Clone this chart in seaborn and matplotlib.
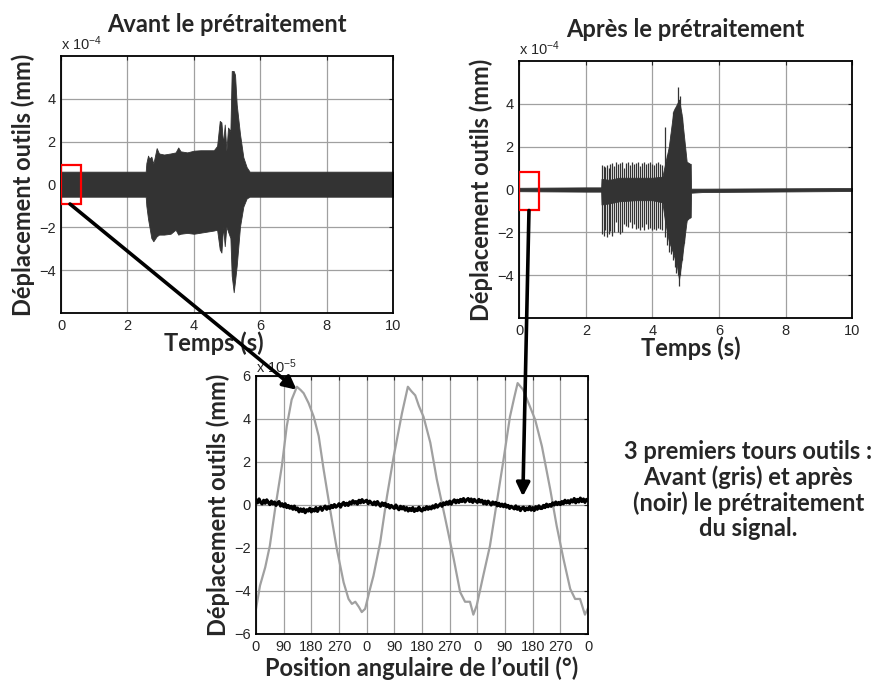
import numpy as np
import pandas as pd
import seaborn as sns
import matplotlib.pyplot as plt
from matplotlib.patches import Rectangle, ConnectionPatch

# ---- top left : before preprocessing (signal envelope, x1e-4 mm) ----
before_t = [0, 2.55, 2.57, 2.62, 2.66, 2.72, 2.78, 2.88, 2.95, 3.1,
            3.3, 3.45, 3.53, 3.6, 3.8, 4.0, 4.2, 4.4, 4.6, 4.7,
            4.78, 4.83, 4.88, 4.93, 4.98, 5.03, 5.1, 5.14, 5.2, 5.24,
            5.29, 5.39, 5.49, 5.59, 5.68, 5.75, 10]
before_up = [0.6, 0.6, 1.0, 1.35, 1.2, 1.3, 0.97, 1.7, 1.45, 1.4,
             1.45, 1.5, 1.73, 1.55, 1.5, 1.58, 1.6, 1.6, 1.6, 1.8,
             2.97, 2.9, 1.9, 2.8, 1.58, 2.66, 2.5, 5.3, 5.3, 5.12,
             3.74, 2.35, 1.27, 0.81, 0.6, 0.6, 0.6]
before_lo = [-0.57, -0.57, -1.0, -1.6, -1.96, -2.5, -2.65, -2.42, -2.34, -2.34,
             -2.3, -2.11, -2.34, -2.3, -2.26, -2.3, -2.25, -2.2, -2.15, -2.11,
             -3.03, -3.18, -1.96, -2.88, -1.96, -2.2, -2.5, -4.26, -5.03, -4.5,
             -3.8, -1.96, -1.03, -0.65, -0.57, -0.57, -0.57]

# ---- top right : after preprocessing (core band + spikes, x1e-4 mm) ----
after_t = [0, 2.0, 2.46, 2.47, 2.7, 3.0, 3.5, 4.0, 4.3, 4.38, 4.49,
           4.63, 4.74, 4.8, 4.88, 5.03, 5.13, 5.15, 5.16, 5.5, 10]
after_up = [0.08, 0.1, 0.1, 0.5, 0.45, 0.55, 0.55, 0.55, 0.6, 1.2, 1.97,
            3.67, 4.0, 4.2, 3.5, 1.3, 1.2, 1.2, 0.04, 0.04, 0.07]
after_lo = [-0.08, -0.1, -0.1, -0.7, -0.65, -0.55, -0.5, -0.5, -0.6, -1.5, -2.4,
            -3.0, -3.6, -4.2, -3.3, -1.44, -1.29, -1.29, -0.15, -0.12, -0.07]

spike_t = [2.48, 2.53, 2.58, 2.63, 2.68, 2.74, 2.80, 2.86, 2.92, 2.98,
           3.04, 3.10, 3.16, 3.22, 3.28, 3.34, 3.40, 3.46, 3.52, 3.58,
           3.64, 3.70, 3.76, 3.82, 3.88, 3.94, 4.00, 4.06, 4.12, 4.18,
           4.24, 4.30, 4.38, 4.44, 4.50, 4.56, 4.62, 4.68, 4.72, 4.76,
           4.80, 4.83, 4.88, 4.94, 5.00, 5.06, 5.12]
spike_top = [1.15, 1.1, 1.05, 1.15, 1.0, 1.2, 1.25, 1.1, 1.3, 1.2,
             1.25, 1.3, 1.0, 1.25, 1.3, 1.15, 1.3, 1.2, 1.25, 1.3,
             1.1, 1.25, 1.3, 1.2, 1.25, 1.3, 1.2, 1.15, 1.25, 1.3,
             1.2, 1.15, 2.9, 1.6, 2.0, 2.6, 3.6, 3.8, 3.7, 4.8,
             4.1, 4.35, 3.4, 2.0, 1.3, 1.25, 1.2]
spike_bot = [-2.1, -2.15, -1.9, -2.2, -2.1, -1.95, -2.15, -2.0, -1.5, -2.0,
             -2.1, -2.0, -1.6, -1.7, -1.75, -1.5, -1.8, -1.6, -1.85, -1.8,
             -1.9, -1.75, -1.9, -1.6, -1.85, -1.8, -1.9, -1.85, -1.9, -1.8,
             -1.85, -1.9, -2.2, -2.6, -2.9, -3.0, -3.3, -3.6, -3.9, -4.0,
             -4.5, -4.0, -3.3, -2.5, -1.5, -1.3, -1.35]

# ---- bottom : first 3 tool turns (x1e-5 mm) ----
grey_deg = [0, 13, 30, 45, 62, 84, 100, 116, 133, 145,
            155, 171, 188, 204, 220, 241, 263, 285, 301, 312,
            323, 335, 344, 355, 371, 382, 404, 426, 448, 475,
            494, 505, 518, 530, 545, 567, 588, 616, 643, 664,
            680, 696, 707, 718, 739, 761, 783, 805, 826, 840,
            851, 869, 891, 908, 930, 957, 978, 1000, 1022, 1038,
            1054, 1070, 1080]
grey_val = [-4.83, -3.75, -2.9, -1.9, -0.2, 1.8, 3.66, 4.9, 5.5, 5.35,
            5.2, 4.74, 4.1, 3.2, 1.65, -0.2, -2.05, -3.6, -4.37, -4.6,
            -4.5, -4.75, -4.98, -4.83, -3.9, -3.3, -1.74, 0.4, 2.27, 4.28,
            5.5, 5.3, 5.1, 4.6, 4.1, 2.9, 1.2, -0.66, -2.5, -4.05,
            -4.5, -4.5, -5.1, -4.67, -3.3, -1.9, 0.1, 2.1, 4.1, 5.0,
            5.67, 5.36, 4.58, 3.97, 2.73, 0.73, -0.97, -2.5, -3.9, -4.37,
            -4.37, -5.1, -4.8]

black_deg = list(range(0, 1081, 5))
black_val = [0.25, 0.10, 0.28, 0.12, 0.05, 0.22,
             0.08, 0.24, 0.12, 0.02, 0.18, 0.05,
             0.14, -0.02, 0.10, 0.16, -0.05, 0.06,
             -0.08, 0.06, -0.12, -0.02, -0.15, -0.06,
             -0.20, -0.05, -0.22, -0.14, -0.32, -0.18,
             -0.30, -0.18, -0.36, -0.22, -0.28, -0.15,
             -0.32, -0.20, -0.28, -0.12, -0.30, -0.16,
             -0.10, -0.25, -0.14, -0.05, -0.20, -0.08,
             -0.16, -0.02, -0.12, 0.02, -0.10, -0.04,
             0.06, -0.10, 0.04, 0.12, -0.02, 0.08,
             -0.02, 0.14, 0.05, 0.20, 0.08, 0.16,
             0.04, 0.22, 0.10, 0.25, 0.12, 0.18,
             0.22, 0.06, 0.18, 0.10, 0.02, 0.14,
             0.00, 0.16, 0.04, -0.06, 0.10, -0.02,
             0.08, -0.08, 0.02, -0.14, -0.02, -0.10,
             -0.16, 0.00, -0.14, -0.22, -0.06, -0.18,
             -0.08, -0.24, -0.12, -0.28, -0.16, -0.26,
             -0.12, -0.30, -0.18, -0.26, -0.10, -0.24,
             -0.28, -0.14, -0.22, -0.08, -0.20, -0.10,
             -0.18, -0.04, -0.14, 0.02, -0.10, -0.02,
             0.06, -0.06, 0.10, 0.02, 0.14, 0.04,
             0.18, 0.04, 0.16, 0.24, 0.10, 0.22,
             0.12, 0.26, 0.16, 0.30, 0.14, 0.24,
             0.30, 0.16, 0.28, 0.12, 0.26, 0.18,
             0.12, 0.26, 0.14, 0.22, 0.06, 0.18,
             0.04, 0.18, 0.10, 0.00, 0.14, 0.04,
             0.12, -0.04, 0.08, -0.06, 0.04, -0.08,
             0.04, -0.10, -0.02, -0.16, -0.06, -0.12,
             -0.18, -0.04, -0.20, -0.10, -0.26, -0.14,
             -0.10, -0.26, -0.14, -0.22, -0.08, -0.24,
             -0.12, -0.26, -0.08, -0.20, -0.04, -0.16,
             -0.16, -0.02, -0.12, 0.04, -0.08, 0.02,
             -0.06, 0.10, 0.00, 0.14, 0.02, 0.12,
             0.02, 0.16, 0.06, 0.22, 0.10, 0.20,
             0.08, 0.24, 0.14, 0.30, 0.10, 0.26,
             0.14, 0.32, 0.16, 0.28, 0.12, 0.26,
             0.20]

angle_labels = ['0', '90', '180', '270'] * 3 + ['0']

sns.set_style('white')
plt.rcParams['font.family'] = ['Liberation Sans', 'DejaVu Sans']
plt.rcParams['mathtext.default'] = 'regular'
BOLD = dict(family=['Lato', 'DejaVu Sans'], fontweight='bold')
LAB = 17
SIG = '#333333'

fig = plt.figure(figsize=(8.74, 6.84), dpi=100)
ax1 = fig.add_axes([0.0698, 0.5424, 0.380, 0.3757])
ax2 = fig.add_axes([0.5942, 0.5351, 0.3807, 0.3757])
ax3 = fig.add_axes([0.2929, 0.0731, 0.3799, 0.3772])


def matlab_axes(ax):
    ax.grid(True, color='#a0a0a0', lw=0.9)
    ax.set_axisbelow(True)
    ax.tick_params(direction='in', top=True, right=True, labelsize=10.5,
                   length=3, width=0.8, pad=4)
    for s in ax.spines.values():
        s.set_color('black')
        s.set_linewidth(1.3)


# before
ax1.fill_between(before_t, before_lo, before_up, color=SIG, lw=0.6, edgecolor=SIG)
ax1.add_patch(Rectangle((0, -0.9), 0.6, 1.8, fill=False, ec='red', lw=1.6, zorder=5))
ax1.set_title('Avant le prétraitement', fontsize=LAB, pad=17, **BOLD)

# after
ax2.fill_between(after_t, after_lo, after_up, color=SIG, lw=0.6, edgecolor=SIG)
ax2.vlines(spike_t, spike_bot, spike_top, color=SIG, lw=0.9)
ax2.add_patch(Rectangle((0, -0.98), 0.6, 1.82, fill=False, ec='red', lw=1.6, zorder=5))
ax2.set_title('Après le prétraitement', fontsize=LAB, pad=17, **BOLD)

for ax in (ax1, ax2):
    matlab_axes(ax)
    ax.set_xlim(0, 10)
    ax.set_ylim(-6, 6)
    ax.set_xticks([0, 2, 4, 6, 8, 10])
    ax.set_yticks([-4, -2, 0, 2, 4])
    ax.set_xlabel('Temps (s)', fontsize=LAB, labelpad=-1, **BOLD)
    ax.set_ylabel('Déplacement outils (mm)', fontsize=LAB, labelpad=3, **BOLD)
    ax.text(0.0, 1.01, r'x 10$^{-4}$', transform=ax.transAxes, fontsize=10.5,
            ha='left', va='bottom')
ax1.xaxis.label.set_x(0.461)
ax2.xaxis.label.set_x(0.516)

# bottom zoom
df_grey = pd.DataFrame({'deg': grey_deg, 'val': grey_val})
df_black = pd.DataFrame({'deg': black_deg, 'val': black_val})
sns.lineplot(data=df_grey, x='deg', y='val', ax=ax3, color='#a0a0a0', lw=1.6,
             estimator=None, sort=False)
sns.lineplot(data=df_black, x='deg', y='val', ax=ax3, color='black', lw=2.3,
             estimator=None, sort=False)
matlab_axes(ax3)
ax3.set_xlim(0, 1080)
ax3.set_ylim(-6, 6)
ax3.set_xticks(range(0, 1081, 90))
ax3.set_xticklabels(angle_labels)
ax3.set_yticks([-6, -4, -2, 0, 2, 4, 6])
ax3.set_xlabel('Position angulaire de l\u2019outil (°)', fontsize=LAB, labelpad=2, **BOLD)
ax3.set_ylabel('Déplacement outils (mm)', fontsize=LAB, labelpad=3, **BOLD)
ax3.text(0.0, 1.0, r'x 10$^{-5}$', transform=ax3.transAxes, fontsize=10.5,
         ha='left', va='bottom')

# arrows from the red boxes to the zoomed plot
for axA, pA, pB in [(ax1, (0.27, -0.91), (132, 5.36)),
                    (ax2, (0.29, -0.98), (868, 0.4))]:
    con = ConnectionPatch(xyA=pA, coordsA=axA.transData, xyB=pB, coordsB=ax3.transData,
                          arrowstyle='-|>', lw=2.6, color='black', mutation_scale=20,
                          zorder=10)
    fig.add_artist(con)

fig.text(0.856, 0.284,
         '3 premiers tours outils :\nAvant (gris) et après\n(noir) le prétraitement\ndu signal.',
         ha='center', va='center', fontsize=LAB, linespacing=1.12, **BOLD)

fig.savefig('out.png', dpi=100)
